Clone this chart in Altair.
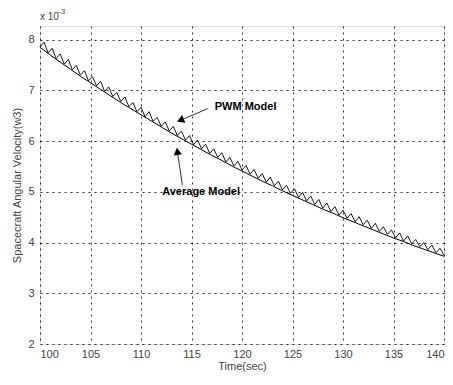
import altair as alt
import pandas as pd

# Average model (x1e-3), read every 1 s from 100 to 140
avg_t = list(range(100, 141))
avg_v = [7.85, 7.70, 7.56, 7.42, 7.28, 7.15, 7.02, 6.89, 6.76, 6.64,
         6.52, 6.40, 6.28, 6.16, 6.05, 5.94, 5.83, 5.72, 5.62, 5.51,
         5.41, 5.31, 5.21, 5.12, 5.02, 4.93, 4.84, 4.75, 4.66, 4.58,
         4.49, 4.41, 4.33, 4.25, 4.17, 4.09, 4.02, 3.94, 3.87, 3.80, 3.73]

# PWM model (x1e-3), zig-zag read every 0.4 s
pwm_t = [round(100 + 0.4 * i, 1) for i in range(101)]
pwm_v = [7.86, 7.95, 7.74, 7.83, 7.63, 7.72, 7.52, 7.61, 7.41, 7.49,
         7.30, 7.39, 7.19, 7.27, 7.09, 7.18, 6.98, 7.07, 6.88, 6.96,
         6.78, 6.87, 6.68, 6.76, 6.58, 6.67, 6.48, 6.58, 6.39, 6.47,
         6.29, 6.38, 6.20, 6.29, 6.11, 6.20, 6.02, 6.11, 5.93, 6.02,
         5.85, 5.94, 5.76, 5.85, 5.68, 5.77, 5.59, 5.68, 5.51, 5.60,
         5.43, 5.52, 5.35, 5.44, 5.27, 5.36, 5.19, 5.29, 5.12, 5.21,
         5.04, 5.13, 4.97, 5.06, 4.89, 4.99, 4.82, 4.92, 4.75, 4.85,
         4.68, 4.78, 4.61, 4.71, 4.54, 4.64, 4.48, 4.57, 4.41, 4.51,
         4.35, 4.44, 4.28, 4.38, 4.22, 4.31, 4.16, 4.25, 4.09, 4.19,
         4.03, 4.13, 3.98, 4.06, 3.92, 4.00, 3.86, 3.95, 3.80, 3.89, 3.75]

x_ticks = [100, 105, 110, 115, 120, 125, 130, 135, 140]
y_ticks = [2, 3, 4, 5, 6, 7, 8]

FONT = "Liberation Sans"

avg_df = pd.DataFrame({"t": avg_t, "v": avg_v})
pwm_df = pd.DataFrame({"t": pwm_t, "v": pwm_v})

xs = alt.Scale(domain=[100, 140], nice=False, zero=False)
ys = alt.Scale(domain=[2, 8.27], nice=False, zero=False)

xaxis = alt.Axis(values=x_ticks, format="d", title="Time(sec)", grid=True, gridDash=[2, 4],
                 gridColor="#000", gridOpacity=0.8, tickSize=0, labelPadding=4,
                 labelFont=FONT, labelFontSize=11, labelColor="#444",
                 titleFont=FONT, titleFontSize=11, titleFontWeight="normal",
                 titleColor="#444", titlePadding=1, domain=False)
yaxis = alt.Axis(values=y_ticks, format="d", title="Spacecraft Angular Velocity(w3)", grid=True,
                 gridDash=[2, 4], gridColor="#000", gridOpacity=0.8, tickSize=0,
                 labelPadding=6, labelFont=FONT, labelFontSize=11, labelColor="#444",
                 titleFont=FONT, titleFontSize=11, titleFontWeight="normal",
                 titleColor="#444", titlePadding=5, domain=False)

avg_line = alt.Chart(avg_df).mark_line(color="#000", strokeWidth=1).encode(
    x=alt.X("t:Q", scale=xs, axis=xaxis),
    y=alt.Y("v:Q", scale=ys, axis=yaxis),
)
pwm_line = alt.Chart(pwm_df).mark_line(color="#000", strokeWidth=0.9).encode(
    x=alt.X("t:Q", scale=xs),
    y=alt.Y("v:Q", scale=ys),
)

# annotations
lab_df = pd.DataFrame({"t": [117.3, 112.1], "v": [6.68, 4.99],
                       "txt": ["PWM Model", "Average Model"]})
labels = alt.Chart(lab_df).mark_text(font=FONT, fontSize=11, fontWeight="bold",
                                     align="left", baseline="middle", color="#000").encode(
    x=alt.X("t:Q", scale=xs), y=alt.Y("v:Q", scale=ys), text="txt:N")

arr_df = pd.DataFrame({"t": [116.6, 114.1], "v": [6.64, 5.13],
                       "t2": [113.9, 113.6], "v2": [6.41, 5.80]})
arrows = alt.Chart(arr_df).mark_rule(color="#000", strokeWidth=0.8).encode(
    x=alt.X("t:Q", scale=xs), y=alt.Y("v:Q", scale=ys), x2="t2:Q", y2="v2:Q")

head_df = pd.DataFrame({"t": [113.9, 113.6], "v": [6.41, 5.80], "ang": [246.6, 351.5]})
heads = alt.Chart(head_df).mark_point(shape="triangle-up", filled=True, color="#000",
                                      size=70, opacity=1).encode(
    x=alt.X("t:Q", scale=xs), y=alt.Y("v:Q", scale=ys), angle=alt.Angle("ang:Q", scale=None))

exp_df = pd.DataFrame({"txt": ["x 10"]})
exp_a = alt.Chart(exp_df).mark_text(font=FONT, fontSize=10, color="#444", align="left",
                                    baseline="middle").encode(
    x=alt.value(0), y=alt.value(-9), text="txt:N")
exp_b = alt.Chart(pd.DataFrame({"txt": ["-3"]})).mark_text(font=FONT, fontSize=8, color="#444",
                                                           align="left", baseline="middle").encode(
    x=alt.value(18), y=alt.value(-14), text="txt:N")

chart = alt.layer(avg_line, pwm_line, arrows, heads, labels, exp_a, exp_b).properties(
    width=404, height=318,
    padding={"left": 32, "top": 18, "right": 1, "bottom": 33},
    autosize=alt.AutoSizeParams(type="none"),
).configure_view(stroke="#000", strokeWidth=1.2).configure(background="white")

chart.save("out.html", embed_options={"renderer": "svg", "actions": False})
